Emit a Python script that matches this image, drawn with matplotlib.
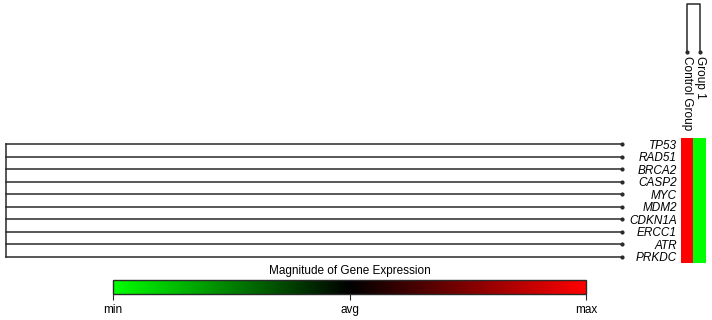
# Clustered heatmap: control vs group 1

import numpy as np
from matplotlib import pyplot as plt
from matplotlib.colors import LinearSegmentedColormap, Normalize
from matplotlib.cm import ScalarMappable

plt.rcParams['font.family'] = ['Liberation Sans', 'DejaVu Sans']

# data
genes = ["TP53", "RAD51", "BRCA2", "CASP2", "MYC", "MDM2", "CDKN1A", "ERCC1", "ATR", "PRKDC"]
groups = ["Control Group", "Group 1"]
control_expr = [1, 1, 1, 1, 1, 1, 1, 1, 1, 1]
group1_expr = [-1, -1, -1, -1, -1, -1, -1, -1, -1, -1]
row_merge_height = 1.0   # all genes join in one node
col_merge_height = 1.0
cbar_ticks = [-1, 0, 1]
cbar_labels = ["min", "avg", "max"]

W, H = 712, 320
def px(x0, y0, x1, y1):
    return [x0 / W, 1 - y1 / H, (x1 - x0) / W, (y1 - y0) / H]

cmap = LinearSegmentedColormap.from_list("gbr", ["#00ff00", "#000000", "#ff0000"])
norm = Normalize(vmin=-1, vmax=1)
line_c = "#2a2a2a"

fig = plt.figure(figsize=(7.12, 3.2), dpi=100)

# heatmap
ax_hm = fig.add_axes(px(681, 138, 706, 263))
data = np.column_stack([control_expr, group1_expr])
ax_hm.imshow(data, cmap=cmap, norm=norm, aspect='auto', interpolation='nearest')
ax_hm.set_yticks(range(len(genes)))
ax_hm.set_yticklabels(genes, fontsize=8.5, style='italic')
ax_hm.tick_params(axis='y', length=0, pad=3)
ax_hm.set_xticks([])
for s in ax_hm.spines.values():
    s.set_visible(False)

# column labels
col_x = [687, 699.5]
for x, g in zip(col_x, groups):
    fig.text(x / W, 1 - 56 / H, g, rotation=270, ha='center', va='top', fontsize=8.5)

# row dendrogram (comb)
ax_rd = fig.add_axes(px(6, 138, 622, 263))
n = len(genes)
for i in range(n):
    ax_rd.plot([0, row_merge_height], [i, i], color=line_c, lw=1.1, clip_on=False)
    ax_rd.plot(0, i, 'o', color=line_c, ms=2, clip_on=False)
ax_rd.plot([row_merge_height, row_merge_height], [0, n - 1], color=line_c, lw=1.1, clip_on=False)
ax_rd.set_xlim(row_merge_height, 0)
ax_rd.set_ylim(n - 0.5, -0.5)
ax_rd.axis('off')

# column dendrogram
ax_cd = fig.add_axes(px(681, 4, 706, 52))
ax_cd.plot([0, 0, 1, 1], [0, col_merge_height, col_merge_height, 0], color=line_c, lw=1.1, clip_on=False)
ax_cd.plot([0, 1], [0, 0], 'o', color=line_c, ms=2, clip_on=False)
ax_cd.set_xlim(-0.5, 1.5)
ax_cd.set_ylim(0, col_merge_height)
ax_cd.axis('off')

# colorbar
ax_cb = fig.add_axes(px(113, 280, 586, 294))
cb = fig.colorbar(ScalarMappable(norm=norm, cmap=cmap), cax=ax_cb, orientation='horizontal')
cb.set_ticks(cbar_ticks)
cb.set_ticklabels(cbar_labels)
cb.ax.tick_params(labelsize=8.5, length=4, width=0.8, color=line_c, pad=3)
cb.outline.set_edgecolor(line_c)
cb.outline.set_linewidth(1)
ax_cb.set_title("Magnitude of Gene Expression", fontsize=8.5, pad=4)

fig.savefig("out.png", dpi=100)
